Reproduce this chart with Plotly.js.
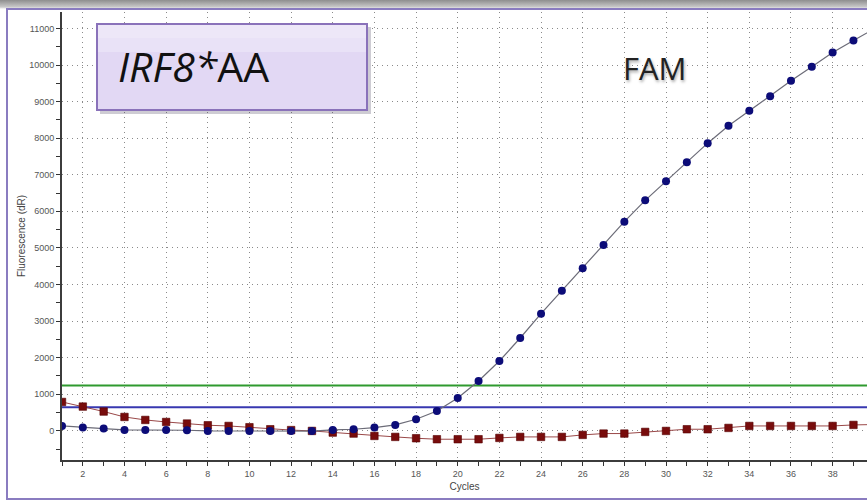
<!DOCTYPE html>
<html>
<head>
<meta charset="utf-8">
<script src="https://cdn.plot.ly/plotly-3.0.1.min.js"></script>
<style>
  html, body { margin:0; padding:0; background:#ffffff; }
  #wrap { position:relative; width:867px; height:502px; overflow:hidden;
          background: linear-gradient(to bottom, #8e8e8e 0px, #c9c9c9 7px, #ffffff 9px, #ffffff 100%); }
  #frame { position:absolute; left:6px; top:8px; width:920px; height:492px;
           border:2px solid #8a7cc0; box-sizing:border-box; background:#ffffff; }
  #chart { position:absolute; left:0; top:0; width:867px; height:502px; }
</style>
</head>
<body>
<div id="wrap">
  <div id="frame"></div>
  <div id="chart"></div>
</div>
<script>
// ---- data ----
const cycles = [1,2,3,4,5,6,7,8,9,10,11,12,13,14,15,16,17,18,19,20,
                21,22,23,24,25,26,27,28,29,30,31,32,33,34,35,36,37,38,39,40];
const famSample = [131, 87, 60, 22, 22, 22, 14, -5, -5, -5, -5, -5, -10, 22, 41, 87, 160, 314, 541, 896,
                   1361, 1907, 2536, 3202, 3830, 4445, 5077, 5716, 6300, 6820, 7344, 7863, 8339, 8749, 9148, 9568, 9951, 10341, 10670, 10990];
const famControl = [787, 661, 525, 377, 295, 240, 197, 150, 131, 96, 41, 18, -5, -50, -77, -142, -169, -205, -232, -232,
                    -232, -196, -169, -169, -169, -114, -77, -77, -32, -5, 41, 41, 77, 131, 131, 131, 131, 131, 159, 170];
const thresholdGreen = 1240;
const thresholdBlue = 640;
const labelText = "<i>IRF8*</i>AA";
const dyeText = "FAM";
const xTitle = "Cycles";
const yTitle = "Fluorescence (dR)";

// ---- layout helpers (pixel -> paper) ----
const W = 867, H = 502, ML = 62, MR = 0, MT = 12, MB = 42;
const px2x = p => (p - ML) / (W - ML - MR);
const py2y = p => (H - MB - p) / (H - MT - MB);

const xEnds = [cycles[0], cycles[cycles.length - 1]];

const traces = [
  { x: xEnds, y: [thresholdGreen, thresholdGreen], mode: 'lines',
    line: { color: '#2f9a2f', width: 2 }, hoverinfo: 'skip', showlegend: false },
  { x: xEnds, y: [thresholdBlue, thresholdBlue], mode: 'lines',
    line: { color: '#3838b0', width: 2 }, hoverinfo: 'skip', showlegend: false },
  { x: cycles, y: famControl, mode: 'lines+markers', name: 'control',
    line: { color: '#9a4848', width: 1 },
    marker: { symbol: 'square', size: 7.5, color: '#780c0c', line: { color: '#550000', width: 0.6 } },
    showlegend: false },
  { x: cycles, y: famSample, mode: 'lines+markers', name: 'sample',
    line: { color: '#6c6c78', width: 1.2 },
    marker: { symbol: 'circle', size: 8, color: '#0c0c78' },
    showlegend: false }
];

const tickFont = { family: 'Liberation Sans, Arial, sans-serif', size: 9, color: '#555' };
const titleFont = { family: 'Liberation Sans, Arial, sans-serif', size: 10, color: '#444' };
const gridDash = '1px,4px';

const layout = {
  width: W, height: H,
  margin: { l: ML, r: MR, t: MT, b: MB },
  paper_bgcolor: 'rgba(0,0,0,0)',
  plot_bgcolor: '#ffffff',
  showlegend: false,
  xaxis: {
    range: [1, 39.65], tick0: 0, dtick: 2,
    ticks: 'outside', ticklen: 4, tickwidth: 1, tickcolor: '#333',
    minor: { dtick: 1, ticks: 'outside', ticklen: 4, tickwidth: 1, tickcolor: '#333', showgrid: false },
    showgrid: true, gridcolor: '#8a8a8a', gridwidth: 1, griddash: gridDash,
    showline: true, linecolor: '#3c3c3c', linewidth: 2, zeroline: false,
    tickfont: tickFont,
    title: { text: xTitle, font: titleFont, standoff: 5 }
  },
  yaxis: {
    range: [-800, 11450], tick0: 0, dtick: 1000, tickformat: 'd',
    ticks: 'outside', ticklen: 4, tickwidth: 1, tickcolor: '#333',
    minor: { dtick: 500, ticks: 'outside', ticklen: 4, tickwidth: 1, tickcolor: '#333', showgrid: false },
    showgrid: true, gridcolor: '#8a8a8a', gridwidth: 1, griddash: gridDash,
    showline: true, linecolor: '#3c3c3c', linewidth: 2, zeroline: false,
    tickfont: tickFont,
    title: { text: yTitle, font: titleFont, standoff: 2 }
  },
  xaxis2: {
    overlaying: 'x', anchor: 'y', matches: 'x', range: [1, 39.65], tick0: 0, dtick: 2,
    ticks: 'inside', ticklen: 4, tickwidth: 1, tickcolor: '#333',
    minor: { dtick: 1, ticks: 'inside', ticklen: 4, tickwidth: 1, tickcolor: '#333', showgrid: false },
    showticklabels: false, showgrid: false, showline: false, zeroline: false
  },
  yaxis2: {
    overlaying: 'y', anchor: 'x', matches: 'y', range: [-800, 11450], tick0: 0, dtick: 1000,
    ticks: 'inside', ticklen: 4, tickwidth: 1, tickcolor: '#333',
    minor: { dtick: 500, ticks: 'inside', ticklen: 4, tickwidth: 1, tickcolor: '#333', showgrid: false },
    showticklabels: false, showgrid: false, showline: false, zeroline: false
  },
  shapes: [
    // shadow of label box
    { type: 'rect', xref: 'paper', yref: 'paper',
      x0: px2x(100), x1: px2x(371), y0: py2y(114), y1: py2y(27),
      fillcolor: 'rgba(60,50,80,0.25)', line: { width: 0 }, layer: 'above' },
    // label box
    { type: 'rect', xref: 'paper', yref: 'paper',
      x0: px2x(97), x1: px2x(367), y0: py2y(110), y1: py2y(24),
      fillcolor: '#e2d8f4', line: { color: '#8a72ba', width: 2 }, layer: 'above' },
    { type: 'rect', xref: 'paper', yref: 'paper',
      x0: px2x(98), x1: px2x(366), y0: py2y(52), y1: py2y(25),
      fillcolor: 'rgba(255,255,255,0.25)', line: { width: 0 }, layer: 'above' },
    { type: 'rect', xref: 'paper', yref: 'paper',
      x0: px2x(98), x1: px2x(366), y0: py2y(38), y1: py2y(25),
      fillcolor: 'rgba(255,255,255,0.2)', line: { width: 0 }, layer: 'above' }
  ],
  annotations: [
    { xref: 'paper', yref: 'paper', x: px2x(116), y: py2y(66), xanchor: 'left', yanchor: 'middle',
      text: labelText, showarrow: false,
      font: { family: 'Open Sans, sans-serif', size: 41, color: '#111' } },
    { xref: 'paper', yref: 'paper', x: px2x(654), y: py2y(68), xanchor: 'center', yanchor: 'middle',
      text: dyeText, showarrow: false,
      font: { family: 'Open Sans, sans-serif', size: 31, color: '#222',
              shadow: '1px 2px 3px rgba(0,0,0,0.35)' } }
  ]
};

Plotly.newPlot('chart', traces, layout, { staticPlot: true, displayModeBar: false });
</script>
</body>
</html>
